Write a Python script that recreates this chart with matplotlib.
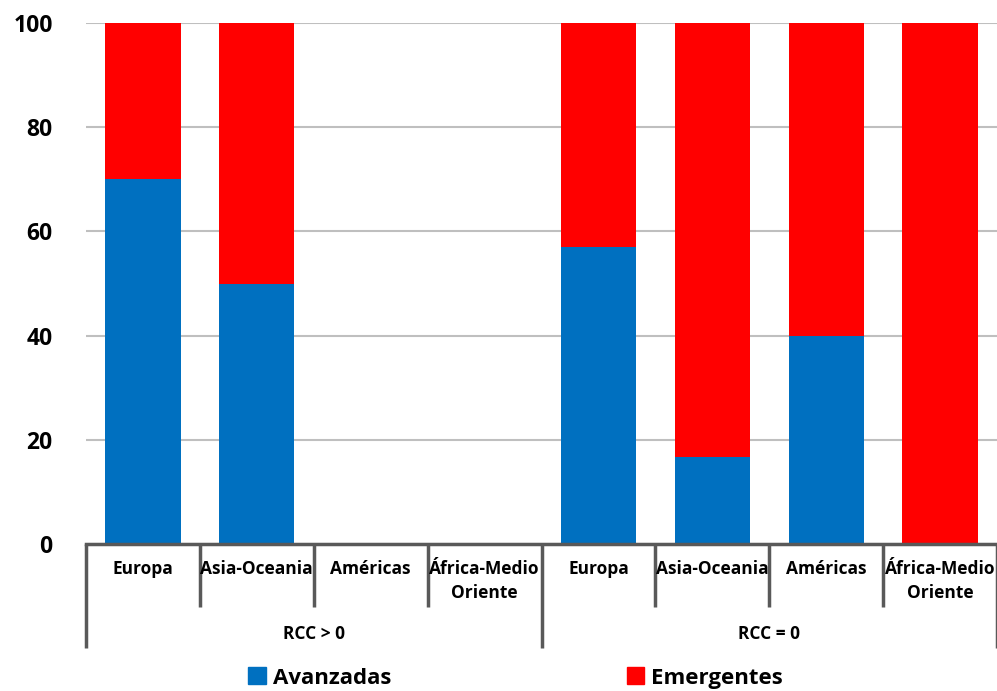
import matplotlib
matplotlib.use("Agg")
import matplotlib.pyplot as plt
import matplotlib.transforms as mtransforms
from matplotlib.patches import Patch
import numpy as np

plt.rcParams['font.family'] = ['Open Sans', 'DejaVu Sans']

categories = ["Europa", "Asia-Oceania", "Américas", "África-Medio\nOriente",
              "Europa", "Asia-Oceania", "Américas", "África-Medio\nOriente"]
groups = ["RCC > 0", "RCC = 0"]
avanzadas = [70, 50, 0, 0, 57.1, 16.7, 40, 0]
emergentes = [30, 50, 0, 0, 42.9, 83.3, 60, 100]
yticks = [0, 20, 40, 60, 80, 100]

blue = "#0070C0"
red = "#FF0000"

fig = plt.figure(figsize=(9.97, 6.91), dpi=100)
ax = fig.add_axes([86/997, 1 - 544/691, (997 - 86)/997, (544 - 23)/691])

x = np.arange(len(categories))
w = 0.66
ax.bar(x, avanzadas, width=w, color=blue, zorder=3, label="Avanzadas")
ax.bar(x, emergentes, bottom=avanzadas, width=w, color=red, zorder=3, label="Emergentes")

ax.set_xlim(-0.5, len(categories) - 0.5)
ax.set_ylim(0, 100)
ax.set_yticks(yticks)
ax.set_yticklabels([str(v) for v in yticks], fontsize=16.5, fontweight='bold')
ax.yaxis.grid(True, color="#BFBFBF", linewidth=1.5, zorder=0)
ax.tick_params(axis='y', length=0, pad=24)
ax.set_xticks([])
for s in ['top', 'right', 'left']:
    ax.spines[s].set_visible(False)
ax.spines['bottom'].set_color("#595959")
ax.spines['bottom'].set_linewidth(2.5)
ax.spines['bottom'].set_zorder(4)

trans = mtransforms.blended_transform_factory(ax.transData, fig.transFigure)
y0 = 1 - 544/691
y_cat = 1 - 607/691
y_grp = 1 - 648/691
sep_color = "#595959"
for b in np.arange(-0.5, len(categories), 1.0):
    idx = int(b + 0.5)
    is_group = (idx % 4 == 0)
    ybot = y_grp if is_group else y_cat
    ax.plot([b, b], [y0, ybot], transform=trans, color=sep_color,
            linewidth=2.5, clip_on=False, solid_capstyle='butt')

for i, c in enumerate(categories):
    ax.text(i, 1 - 560/691, c, transform=trans, ha='center', va='top',
            fontsize=12.5, fontweight='bold', linespacing=1.45)

for g, name in enumerate(groups):
    ax.text(g * 4 + 1.5, 1 - 634/691, name, transform=trans, ha='center',
            va='center', fontsize=12.5, fontweight='bold')

handles = [Patch(color=blue, label="Avanzadas"), Patch(color=red, label="Emergentes")]
fig.legend(handles=handles, loc='center', bbox_to_anchor=(0.517, 1 - 678/691),
           ncol=2, frameon=False, prop={'size': 16, 'weight': 'bold'},
           handlelength=0.8, handleheight=0.8, handletextpad=0.3, columnspacing=10.6)

fig.savefig("out.png", dpi=100)
